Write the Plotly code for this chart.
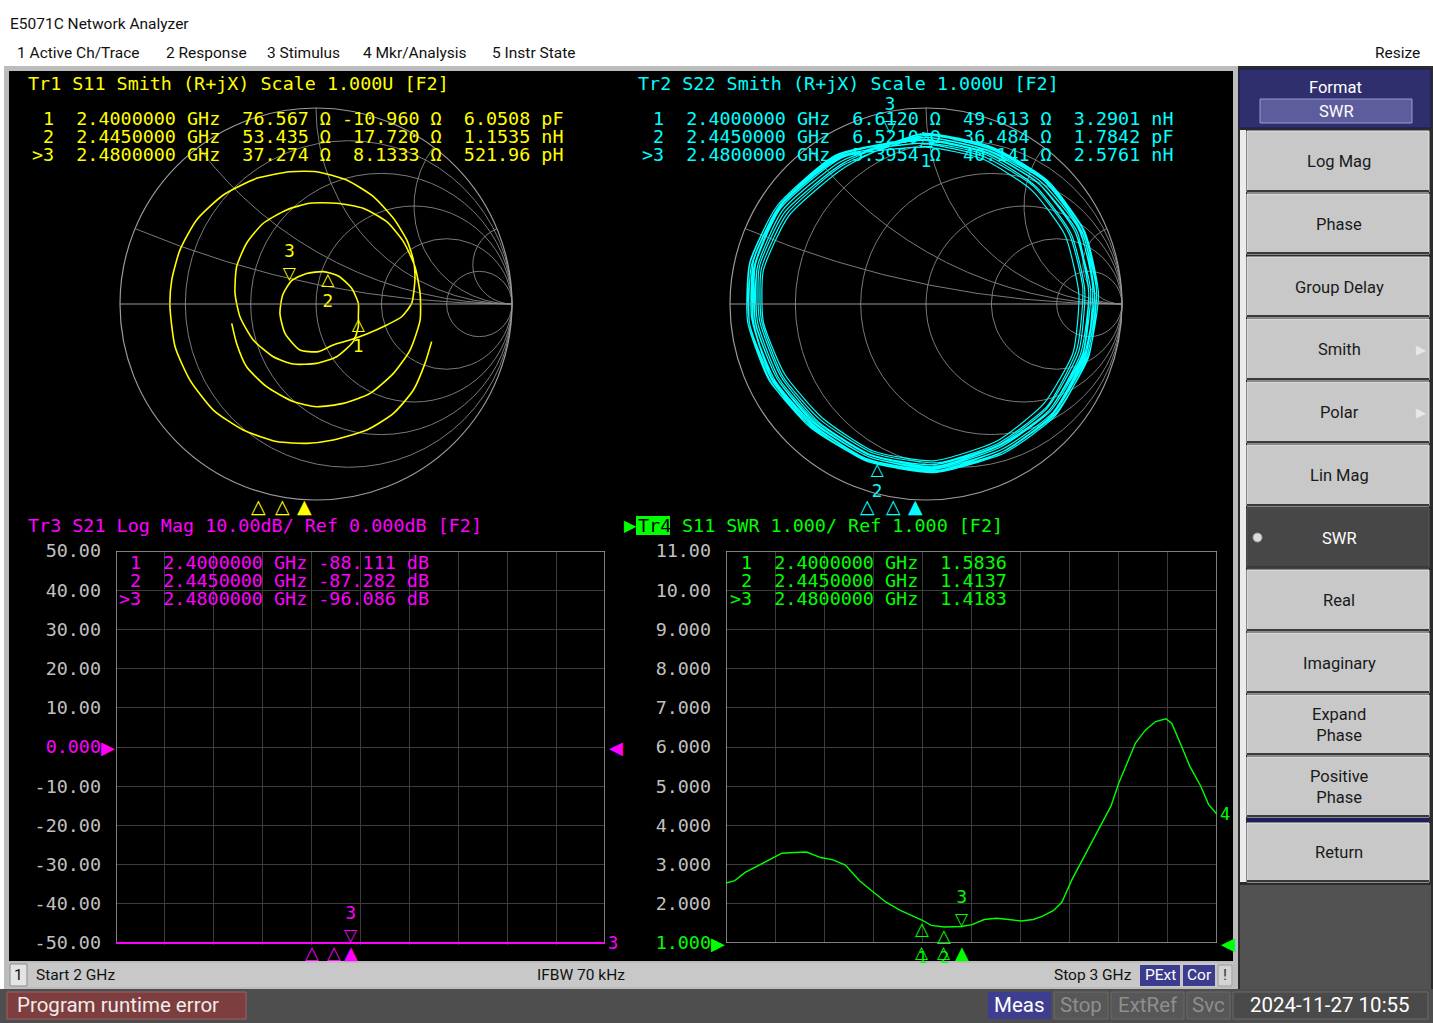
import numpy as np
import plotly.graph_objects as go

W, H = 1433, 1023

# ---------------- data ----------------
marker_labels = ["1", "2", "3"]
marker_freq_ghz = [2.4, 2.445, 2.48]
z0 = 50.0

# Tr1 S11 Smith trace (re, im)
s11_gamma_re = [-0.430, -0.405, -0.354, -0.252, -0.116, 0.003, 0.139, 0.276, 0.395, 0.480,
                0.531, 0.531, 0.505, 0.446, 0.361, 0.241, 0.105, -0.031, -0.150, -0.269,
                -0.354, -0.405, -0.413, -0.388, -0.320, -0.218, -0.116, 0.003, 0.105, 0.190,
                0.216, 0.216, 0.216, 0.182, 0.114, 0.037, -0.048, -0.124, -0.170, -0.184,
                -0.158, -0.082, 0.012, 0.088, 0.173, 0.259, 0.361, 0.437, 0.488, 0.505,
                0.497, 0.463, 0.395, 0.293, 0.156, 0.003, -0.133, -0.303, -0.473, -0.609,
                -0.694, -0.736, -0.745, -0.719, -0.643, -0.524, -0.371, -0.201, -0.048, 0.088,
                0.259, 0.395, 0.497, 0.556, 0.590]
s11_gamma_im = [-0.099, -0.201, -0.320, -0.422, -0.498, -0.524, -0.507, -0.456, -0.354, -0.235,
                -0.082, 0.054, 0.190, 0.318, 0.420, 0.488, 0.514, 0.514, 0.480, 0.412,
                0.310, 0.190, 0.054, -0.065, -0.184, -0.269, -0.306, -0.303, -0.269, -0.192,
                -0.116, -0.065, 0.003, 0.080, 0.143, 0.165, 0.156, 0.119, 0.046, -0.048,
                -0.150, -0.235, -0.243, -0.209, -0.184, -0.153, -0.107, -0.065, 0.003, 0.131,
                0.224, 0.327, 0.437, 0.548, 0.633, 0.675, 0.675, 0.641, 0.556, 0.429,
                0.276, 0.122, -0.014, -0.218, -0.388, -0.541, -0.643, -0.702, -0.711, -0.694,
                -0.643, -0.558, -0.439, -0.303, -0.192]
s11_r_ohm = [76.567, 53.435, 37.274]
s11_x_ohm = [-10.960, 17.720, 8.1333]
s11_lc = ["6.0508 pF", "1.1535 nH", "521.96 pH"]

# Tr2 S22 Smith trace (many overlapping turns), reflection coefficient (re, im)
s22_gamma_re = [-0.02, 0.33, 0.60, 0.79, 0.87, 0.83, 0.66, 0.40, 0.05, -0.30, -0.58, -0.78, -0.90, -0.90, -0.76, -0.45,
                -0.01, 0.32, 0.58, 0.76, 0.83, 0.79, 0.63, 0.38, 0.04, -0.29, -0.56, -0.75, -0.86, -0.86, -0.73, -0.43,
                0.00, 0.34, 0.61, 0.80, 0.86, 0.81, 0.64, 0.38, 0.02, -0.31, -0.59, -0.79, -0.89, -0.88, -0.74, -0.44,
                -0.03, 0.30, 0.55, 0.73, 0.80, 0.77, 0.62, 0.37, 0.06, -0.27, -0.54, -0.73, -0.84, -0.84, -0.71, -0.42,
                -0.01, 0.33, 0.60, 0.78, 0.85, 0.82, 0.65, 0.39, 0.03, -0.30, -0.57, -0.77, -0.88, -0.88, -0.75, -0.44,
                0.00, 0.29, 0.54, 0.71, 0.78, 0.75, 0.60, 0.36, 0.04, -0.27, -0.53, -0.72, -0.83, -0.83, -0.70, -0.41,
                -0.02, 0.34, 0.62, 0.81, 0.88, 0.83, 0.66, 0.40, 0.04, -0.31, -0.59, -0.80, -0.91, -0.90, -0.76, -0.46,
                -0.02, 0.31, 0.57, 0.76, 0.84, 0.80, 0.64, 0.38, 0.03, -0.29, -0.57, -0.76, -0.87, -0.87, -0.74, -0.44,
                -0.01, 0.32, 0.59, 0.78, 0.86, 0.81, 0.65, 0.39, 0.05, -0.30, -0.58, -0.78, -0.88, -0.87, -0.74, -0.45,
                0.01, 0.31, 0.56, 0.74, 0.81, 0.78, 0.62, 0.37, 0.04, -0.28, -0.55, -0.74, -0.85, -0.85, -0.72, -0.42,
                -0.02, 0.33, 0.61, 0.80, 0.87, 0.82, 0.65, 0.40, 0.05, -0.30, -0.59, -0.79, -0.90, -0.89, -0.75, -0.45,
                -0.01, 0.32, 0.58, 0.77, 0.83, 0.80, 0.63, 0.38, 0.04, -0.29, -0.56, -0.76, -0.87, -0.86, -0.73, -0.43,
                -0.01]
s22_gamma_im = [0.875, 0.80, 0.64, 0.38, 0.07, -0.27, -0.56, -0.75, -0.855, -0.80, -0.63, -0.40, -0.10, 0.20, 0.50, 0.76,
                0.835, 0.765, 0.61, 0.37, 0.06, -0.25, -0.54, -0.72, -0.83, -0.77, -0.60, -0.38, -0.09, 0.19, 0.48, 0.73,
                0.86, 0.79, 0.62, 0.36, 0.04, -0.28, -0.57, -0.76, -0.86, -0.79, -0.61, -0.37, -0.07, 0.22, 0.51, 0.75,
                0.82, 0.75, 0.60, 0.36, 0.08, -0.23, -0.52, -0.71, -0.81, -0.76, -0.59, -0.37, -0.08, 0.18, 0.46, 0.71,
                0.85, 0.78, 0.63, 0.39, 0.09, -0.24, -0.55, -0.74, -0.845, -0.79, -0.62, -0.39, -0.11, 0.18, 0.49, 0.745,
                0.80, 0.74, 0.58, 0.35, 0.05, -0.25, -0.51, -0.70, -0.80, -0.75, -0.58, -0.36, -0.09, 0.17, 0.45, 0.70,
                0.87, 0.80, 0.63, 0.37, 0.05, -0.26, -0.57, -0.76, -0.86, -0.80, -0.62, -0.39, -0.09, 0.21, 0.50, 0.76,
                0.84, 0.77, 0.62, 0.37, 0.07, -0.26, -0.54, -0.73, -0.84, -0.78, -0.61, -0.38, -0.10, 0.20, 0.49, 0.74,
                0.85, 0.78, 0.62, 0.38, 0.06, -0.25, -0.55, -0.74, -0.85, -0.79, -0.62, -0.39, -0.09, 0.21, 0.50, 0.75,
                0.82, 0.76, 0.60, 0.36, 0.07, -0.24, -0.53, -0.72, -0.82, -0.77, -0.60, -0.37, -0.08, 0.19, 0.47, 0.72,
                0.865, 0.79, 0.63, 0.38, 0.08, -0.27, -0.56, -0.75, -0.85, -0.80, -0.63, -0.40, -0.10, 0.20, 0.50, 0.755,
                0.84, 0.77, 0.61, 0.37, 0.06, -0.25, -0.54, -0.73, -0.835, -0.78, -0.61, -0.38, -0.09, 0.19, 0.48, 0.73,
                0.86]
s22_r_ohm = [6.6120, 6.5210, 5.3954]
s22_x_ohm = [49.613, -36.484, 40.141]
s22_lc = ["3.2901 nH", "1.7842 pF", "2.5761 nH"]

# Tr3 S21 Log Mag: the trace lies far below the bottom of the scale, so it is shown pinned at -50 dB
s21_freq_ghz = [2.0, 3.0]
s21_shown_db = [-50.0, -50.0]
s21_marker_db = [-88.111, -87.282, -96.086]
s21_ticks = [50, 40, 30, 20, 10, 0, -10, -20, -30, -40, -50]
s21_ticktext = ["50.00", "40.00", "30.00", "20.00", "10.00", "0.000",
                "-10.00", "-20.00", "-30.00", "-40.00", "-50.00"]

# Tr4 S11 SWR
swr_freq_ghz = [2.000, 2.018, 2.039, 2.064, 2.089, 2.114, 2.139, 2.164, 2.193, 2.218,
                2.243, 2.272, 2.301, 2.326, 2.355, 2.380, 2.400, 2.418, 2.445, 2.480,
                2.501, 2.526, 2.551, 2.576, 2.601, 2.626, 2.646, 2.667, 2.684, 2.705,
                2.730, 2.759, 2.784, 2.800, 2.817, 2.834, 2.854, 2.875, 2.896, 2.908,
                2.925, 2.945, 2.967, 2.983, 3.000]
swr_value = [2.53, 2.59, 2.80, 2.97, 3.14, 3.29, 3.31, 3.32, 3.18, 3.12,
             2.99, 2.59, 2.29, 2.04, 1.83, 1.69, 1.58, 1.45, 1.41, 1.42,
             1.47, 1.60, 1.63, 1.60, 1.56, 1.60, 1.69, 1.83, 2.04, 2.63,
             3.22, 3.90, 4.49, 5.08, 5.59, 6.10, 6.43, 6.65, 6.72, 6.60,
             6.10, 5.50, 5.00, 4.53, 4.28]
swr_marker = [1.5836, 1.4137, 1.4183]
swr_ticks = [11, 10, 9, 8, 7, 6, 5, 4, 3, 2, 1]
swr_ticktext = ["11.00", "10.00", "9.000", "8.000", "7.000", "6.000",
                "5.000", "4.000", "3.000", "2.000", "1.000"]

# ---------------- styling helpers ----------------
MONO = "DejaVu Sans Mono"
SYM = "DejaVu Sans"
UI = "Roboto"
MS = 18.4
YEL, CYA, MAG, GRN = "#ffff00", "#00ffff", "#ff00ff", "#00ff00"
TICKC = "#c0c0c0"
NB = "\u00a0"


def X(px):
    return px / W


def Y(py):
    return 1 - py / H


shapes, ann = [], []


def rect(x0, y0, x1, y1, fill, line=None, lw=0, layer="below", kind="rect"):
    shapes.append(dict(type=kind, xref="paper", yref="paper", x0=X(x0), x1=X(x1),
                       y0=Y(y1), y1=Y(y0), fillcolor=fill,
                       line=dict(color=line or fill, width=lw), layer=layer))


def note(px, py, text, color, size=MS, family=MONO, xanchor="left", yanchor="middle", **kw):
    ann.append(dict(x=X(px), y=Y(py), xref="paper", yref="paper", text=text, showarrow=False,
                    font=dict(color=color, size=size, family=family),
                    xanchor=xanchor, yanchor=yanchor, **kw))


def dnote(x, y, xr, yr, text, color, size=16, xanchor="center", yanchor="middle", family=SYM, **kw):
    ann.append(dict(x=x, y=y, xref=xr, yref=yr, text=text, showarrow=False,
                    font=dict(color=color, size=size, family=family),
                    xanchor=xanchor, yanchor=yanchor, **kw))


def sig5(v):
    d = 5 - (int(np.floor(np.log10(abs(v)))) + 1)
    return f"{v:.{d}f}"


def nb(s):
    return s.replace(" ", NB)


leads = [" 1", " 2", ">3"]

# ---------------- figure ----------------
fig = go.Figure()

g11 = np.array(s11_gamma_re) + 1j * np.array(s11_gamma_im)
z11 = (1 + g11) / (1 - g11)
fig.add_trace(go.Scattersmith(real=z11.real, imag=z11.imag, subplot="smith", mode="lines",
                              line=dict(color=YEL, width=1.6, shape="spline", smoothing=0.6),
                              hoverinfo="skip"))
fig.add_trace(go.Scattersmith(real=np.array(s11_r_ohm) / z0, imag=np.array(s11_x_ohm) / z0,
                              subplot="smith", mode="text",
                              text=["△<br>1", "△<br>2", "3<br>▽"],
                              textposition=["bottom center", "bottom center", "top center"],
                              textfont=dict(color=YEL, size=17, family=SYM), hoverinfo="skip"))

g22 = np.array(s22_gamma_re) + 1j * np.array(s22_gamma_im)
z22 = (1 + g22) / (1 - g22)
fig.add_trace(go.Scattersmith(real=z22.real, imag=z22.imag, subplot="smith2", mode="lines",
                              line=dict(color=CYA, width=1.2, shape="spline", smoothing=0.55),
                              hoverinfo="skip"))
fig.add_trace(go.Scattersmith(real=np.array(s22_r_ohm) / z0, imag=np.array(s22_x_ohm) / z0,
                              subplot="smith2", mode="text",
                              text=["△<br>1", "△<br>2", "3<br>▽"],
                              textposition=["bottom center", "bottom center", "top center"],
                              textfont=dict(color=CYA, size=17, family=SYM), hoverinfo="skip"))

fig.add_trace(go.Scatter(x=s21_freq_ghz, y=s21_shown_db, mode="lines", xaxis="x", yaxis="y",
                         line=dict(color=MAG, width=2), hoverinfo="skip"))
fig.add_trace(go.Scatter(x=swr_freq_ghz, y=swr_value, mode="lines", xaxis="x2", yaxis="y2",
                         line=dict(color=GRN, width=1.4), hoverinfo="skip"))

# ---------------- screen chrome ----------------
rect(4, 66, 1238, 990, "#bcbcbc")
rect(9, 71, 1233, 961, "#000000")
rect(9, 963, 1233, 987, "#c8c8c8")
rect(0, 989, W, H, "#4e4e4e")
rect(1238, 66, W, 989, "#2c2c2c")
rect(1239, 69, 1431, 128, "#2f2f6e", "#1c1c4c", 1)
rect(1260, 99, 1412, 123, "#5d5d9d", "#9a9ad0", 1)
rect(1240, 130, 1246, 882, "#ececec")
buttons = [(131, 192, "Log Mag"), (194, 254, "Phase"), (257, 317, "Group Delay"),
           (319, 380, "Smith"), (382, 443, "Polar"), (445, 506, "Lin Mag"),
           (508, 568, "SWR"), (570, 631, "Real"), (633, 693, "Imaginary"),
           (695, 755, "Expand<br>Phase"), (757, 817, "Positive<br>Phase"), (823, 882, "Return")]
for y0, y1, lab in buttons:
    active = lab == "SWR"
    rect(1247, y0, 1429, y1, "#474747" if active else "#c8c8c8", "#e6e6e6" if not active else "#5a5a5a", 1)
    rect(1247, y1 - 2, 1429, y1, "#3a3a3a")
    note(1339, (y0 + y1) / 2, lab, "#ffffff" if active else "#1a1a1a", 16.5, UI, xanchor="center")
    if lab in ("Smith", "Polar"):
        note(1421, (y0 + y1) / 2, "▶", "#e8e8e8", 13, SYM, xanchor="center")
rect(1253, 533, 1262, 542, "#dcdcdc", "#a0a0a0", 1, kind="circle")
rect(1247, 818, 1429, 822, "#1f1f5f")
rect(1240, 885, 1431, 989, "#525252")
note(1335, 87, "Format", "#ffffff", 16.5, UI, xanchor="center")
note(1336, 111, "SWR", "#ffffff", 16.5, UI, xanchor="center")

note(8, 24, "E5071C Network Analyzer", "#111111", 15.5, UI)
for px, lab in [(15, "1 Active Ch/Trace"), (164, "2 Response"), (265, "3 Stimulus"),
                (361, "4 Mkr/Analysis"), (490, "5 Instr State")]:
    note(px, 53, lab, "#111111", 15.5, UI)
note(1422, 53, "Resize", "#111111", 15.5, UI, xanchor="right")

# status bar
rect(10, 964, 27, 986, "#e4e4e4", "#8a8a8a", 1)
note(18.5, 975, "1", "#111111", 15.5, UI, xanchor="center")
note(34, 975, "Start 2 GHz", "#111111", 15.5, UI)
note(535, 975, "IFBW 70 kHz", "#111111", 15.5, UI)
note(1134, 975, "Stop 3 GHz", "#111111", 15.5, UI, xanchor="right")
rect(1140, 965, 1180, 986, "#3c3c8e")
note(1160, 975, "PExt", "#ffffff", 15.5, UI, xanchor="center")
rect(1183, 965, 1215, 986, "#3c3c8e")
note(1199, 975, "Cor", "#ffffff", 15.5, UI, xanchor="center")
rect(1218, 965, 1232, 986, "#d4d4d4", "#9a9a9a", 1)
note(1225, 975, "!", "#333333", 15.5, UI, xanchor="center")

# bottom bar
rect(7, 992, 246, 1019, "#7c3e3e", "#a06060", 1)
note(15, 1005, "Program runtime error", "#f4eaea", 20.5, UI)
rect(988, 992, 1051, 1019, "#3e3e90")
note(1019.5, 1005, "Meas", "#ffffff", 20.5, UI, xanchor="center")
for x0, x1, lab in [(1054, 1108, "Stop"), (1111, 1184, "ExtRef"), (1187, 1230, "Svc")]:
    rect(x0, 992, x1, 1019, "#575757", "#6a6a6a", 1)
    note((x0 + x1) / 2, 1005, lab, "#8e8e8e", 20.5, UI, xanchor="center")
rect(1233, 992, 1428, 1019, "#4a4a4a", "#6a6a6a", 1)
note(1330, 1005, "2024-11-27 10:55", "#ffffff", 20.5, UI, xanchor="center")

# ---------------- trace titles and marker tables ----------------
note(26, 83, nb("Tr1 S11 Smith (R+jX) Scale 1.000U [F2]"), YEL)
note(636, 83, nb("Tr2 S22 Smith (R+jX) Scale 1.000U [F2]"), CYA)
note(26, 525, nb("Tr3 S21 Log Mag 10.00dB/ Ref 0.000dB [F2]"), MAG)
note(622, 525, "▶", GRN, 16, SYM)
rect(636, 516, 670, 535, GRN)
note(636, 525, "Tr4", "#000000")
note(680, 525, nb("S11 SWR 1.000/ Ref 1.000 [F2]"), GRN)

rows_y = [118, 136.5, 155]
for i in range(3):
    f = marker_freq_ghz[i]
    note(30, rows_y[i], nb(f"{leads[i]}  {f:.7f} GHz  {sig5(s11_r_ohm[i]):>6} Ω {sig5(s11_x_ohm[i]):>7} Ω  {s11_lc[i]}"), YEL)
    note(640, rows_y[i], nb(f"{leads[i]}  {f:.7f} GHz  {sig5(s22_r_ohm[i]):>6} Ω {sig5(s22_x_ohm[i]):>7} Ω  {s22_lc[i]}"), CYA)

rows_y2 = [562, 580, 598]
for i in range(3):
    f = marker_freq_ghz[i]
    note(117, rows_y2[i], nb(f"{leads[i]}  {f:.7f} GHz {sig5(s21_marker_db[i]):>7} dB"), MAG)
    note(728, rows_y2[i], nb(f"{leads[i]}  {f:.7f} GHz  {sig5(swr_marker[i]):>6}"), GRN)

# stimulus indicators under the Smith charts
for xs, col in [((258, 282, 304), YEL), ((868, 893, 915), CYA)]:
    for k, px in enumerate(xs):
        note(px, 506, "▲" if k == 2 else "△", col, 19, SYM, xanchor="center")

# markers on the rectangular plots
s21_shown_marker = np.maximum(np.array(s21_marker_db), -50.0)
for i in range(3):
    f = marker_freq_ghz[i]
    if i < 2:
        dnote(f, -50, "x", "y", "△", MAG, 18, yanchor="top", yshift=3)
        dnote(f, swr_marker[i], "x2", "y2", "△", GRN, 18, yanchor="top", yshift=4)
        dnote(f, 1, "x2", "y2", "△", GRN, 17, yanchor="top", yshift=3)
        dnote(f, 1, "x2", "y2", marker_labels[i], GRN, 15, yanchor="top", yshift=-4, family=MONO)
    else:
        dnote(f, s21_shown_marker[i], "x", "y", "3<br>▽", MAG, 17, yanchor="bottom", yshift=-4)
        dnote(f, -50, "x", "y", "▲", MAG, 18, yanchor="top", yshift=3)
        dnote(f, swr_marker[i], "x2", "y2", "3<br>▽", GRN, 17, yanchor="bottom", yshift=-4)
        dnote(f, 1, "x2", "y2", "▲", GRN, 18, yanchor="top", yshift=3)

dnote(3.0, -50, "x", "y", "3", MAG, 17, xanchor="left", xshift=1, family=MONO)
dnote(3.0, swr_value[-1], "x2", "y2", "4", GRN, 17, xanchor="left", xshift=1, family=MONO)
dnote(2.0, 0, "x", "y", "▶", MAG, 18, xanchor="right", xshift=1)
dnote(3.0, 0, "x", "y", "◀", MAG, 18, xanchor="left", xshift=2)
dnote(2.0, 1, "x2", "y2", "▶", GRN, 18, xanchor="right", xshift=1)
dnote(3.0, 1, "x2", "y2", "◀", GRN, 18, xanchor="left", xshift=2)

# plot borders in axis coordinates
for xr, yr, lo, hi in [("x", "y", -50, 50), ("x2", "y2", 1, 11)]:
    shapes.append(dict(type="rect", xref=xr, yref=yr, x0=2.0, x1=3.0, y0=lo, y1=hi,
                       line=dict(color="#a8a8a8", width=1.5), layer="between"))

# ---------------- axes ----------------
gridc = "#3c3c3c"
smith_axis = dict(tickvals=[0.2, 0.5, 1, 2, 5], showticklabels=False, ticks="",
                  gridcolor="#7a7a7a", gridwidth=1, linecolor="#9a9a9a", linewidth=1.2,
                  showgrid=True, showline=True)
pad = 0.6  # extra room below -50 dB so the pinned trace is not cut by the plot edge
s21_ticktext_c = [f"<span style='color:{MAG}'>{t}</span>" if v == 0 else t
                  for v, t in zip(s21_ticks, s21_ticktext)]
swr_ticktext_c = [f"<span style='color:{GRN}'>{t}</span>" if v == 1 else t
                  for v, t in zip(swr_ticks, swr_ticktext)]

fig.update_layout(
    width=W, height=H, margin=dict(l=0, r=0, t=0, b=0, pad=0, autoexpand=False),
    paper_bgcolor="#ffffff", plot_bgcolor="#000000", showlegend=False,
    shapes=shapes, annotations=ann,
    smith=dict(domain=dict(x=[X(120), X(512)], y=[Y(500), Y(108)]), bgcolor="#000000",
               realaxis=smith_axis, imaginaryaxis=smith_axis),
    smith2=dict(domain=dict(x=[X(730), X(1122)], y=[Y(500), Y(108)]), bgcolor="#000000",
                realaxis=smith_axis, imaginaryaxis=smith_axis),
    xaxis=dict(domain=[X(116), X(605)], range=[2, 3], tick0=2, dtick=0.1, showticklabels=False,
               showgrid=True, gridcolor=gridc, zeroline=False, showline=False, ticks="",
               automargin=False),
    yaxis=dict(domain=[Y(943 + pad * 3.92), Y(551)], range=[-50 - pad, 50],
               tickvals=s21_ticks, ticktext=s21_ticktext_c, showgrid=True, gridcolor=gridc,
               zeroline=False, showline=False, ticks="", ticklabelstandoff=14, automargin=False,
               tickfont=dict(family=MONO, size=MS, color=TICKC)),
    xaxis2=dict(domain=[X(726), X(1217)], range=[2, 3], tick0=2, dtick=0.1, showticklabels=False,
                showgrid=True, gridcolor=gridc, zeroline=False, showline=False, ticks="",
                anchor="y2", automargin=False),
    yaxis2=dict(domain=[Y(943), Y(551)], range=[1, 11], anchor="x2",
                tickvals=swr_ticks, ticktext=swr_ticktext_c, showgrid=True, gridcolor=gridc,
                zeroline=False, showline=False, ticks="", ticklabelstandoff=14, automargin=False,
                tickfont=dict(family=MONO, size=MS, color=TICKC)),
)

# the page's default body margin would shift the 1433x1023 figure inside the window
fig.write_html("out.html", config={"displayModeBar": False},
               post_script="document.body.style.margin='0';document.body.style.overflow='hidden';")
